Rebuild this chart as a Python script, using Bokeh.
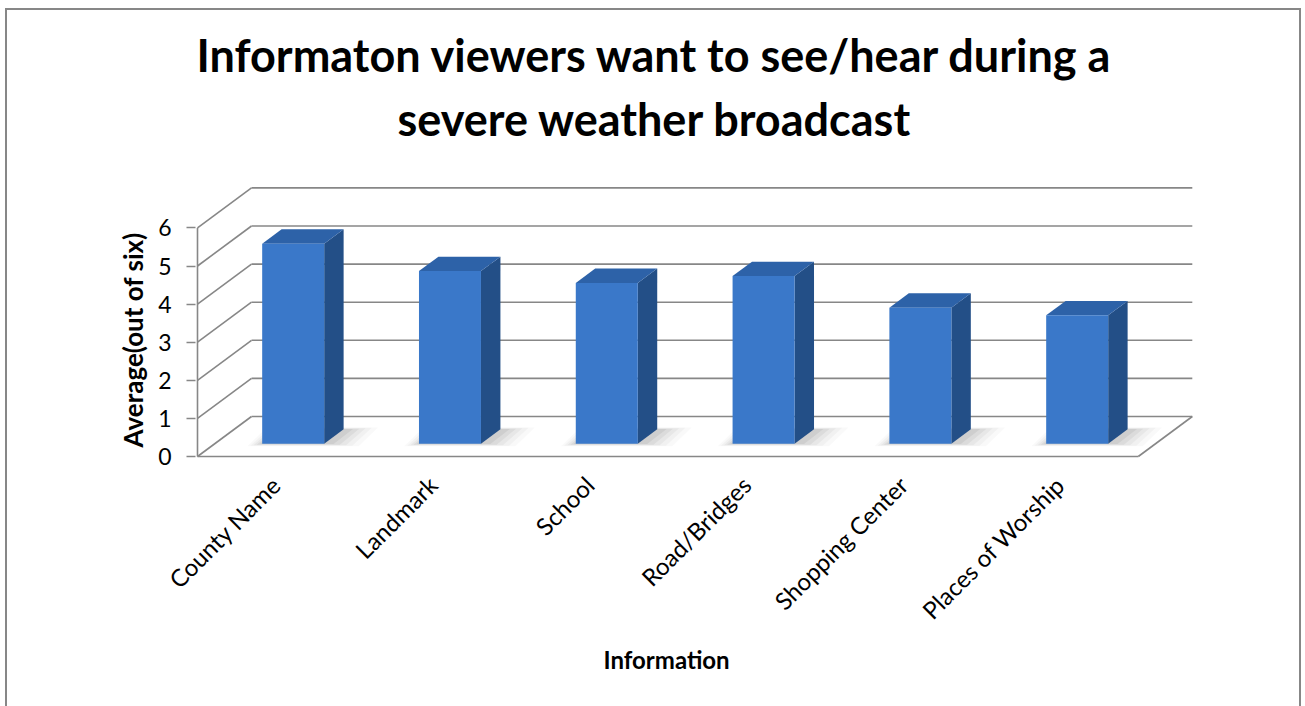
import math
from bokeh.plotting import figure
from bokeh.models import Range1d, FixedTicker, Title, InlineStyleSheet
from bokeh.embed import file_html
from bokeh.resources import INLINE

# ---------------- data ----------------
categories = ["County Name", "Landmark", "School", "Road/Bridges",
              "Shopping Center", "Places of Worship"]
values = [5.25, 4.53, 4.22, 4.40, 3.57, 3.37]
y_ticks = [0, 1, 2, 3, 4, 5, 6]
title_lines = ["Informaton viewers want to see/hear during a",
               "severe weather broadcast"]
x_title = "Information"
y_title = "Average(out of six)"

# ---------------- layout / projection ----------------
W, H = 1305, 706
PX = 156.8          # px per category
PY = 38.1           # px per value unit
DX = 54 / PX        # oblique depth offset (x, data units)
DY = 40 / PY        # oblique depth offset (y, data units)
X0_PX, Y0_PX = 197, 456          # front-left-bottom corner on canvas
FRAME_L, FRAME_R, FRAME_T, FRAME_B = 195, 1196, 184, 458
XL = -0.5                        # left edge of floor (category centers at 0..5)
XR = len(categories) - 0.5
x_start = XL - (X0_PX - FRAME_L) / PX
x_end = XL + (FRAME_R - X0_PX) / PX
y_start = -(FRAME_B - Y0_PX) / PY
y_end = (Y0_PX - FRAME_T) / PY

GRID = "#878787"
FONT = "Lato"

p = figure(width=W, height=H, x_range=Range1d(x_start, x_end),
           y_range=Range1d(y_start, y_end), output_backend="svg",
           toolbar_location=None,
           min_border_left=FRAME_L, min_border_right=W - FRAME_R,
           min_border_top=FRAME_T, min_border_bottom=H - FRAME_B)
p.outline_line_color = None
p.grid.visible = False
p.background_fill_color = "white"
p.border_fill_color = "white"
# chart-area border (Excel chart frame)
p.stylesheets = [InlineStyleSheet(css="""
:host::after {
  content: ""; position: absolute; left: 5px; top: 8px;
  width: 1296px; height: 698px; box-sizing: border-box;
  border: 2px solid #878787; border-bottom: none;
  pointer-events: none; z-index: 1000;
}
""")]

# ---------------- walls / floor ----------------
top_val = max(y_ticks)
p.segment(x0=[XL + DX] * len(y_ticks), y0=[k + DY for k in y_ticks],
          x1=[XR + DX] * len(y_ticks), y1=[k + DY for k in y_ticks],
          line_color=GRID, line_width=1.6)
p.segment(x0=[XL] * len(y_ticks), y0=y_ticks,
          x1=[XL + DX] * len(y_ticks), y1=[k + DY for k in y_ticks],
          line_color=GRID, line_width=1.6)
p.segment(x0=[XL, XL, XR], y0=[0, 0, 0],
          x1=[XL, XR, XR + DX], y1=[top_val, 0, DY],
          line_color=GRID, line_width=1.6)

# ---------------- bars ----------------
BAR_W = 62 / PX
F1, F2 = 0.32, 0.68

shadow_xs, shadow_ys, shadow_alpha = [], [], []
front_l, front_r, front_b, front_t = [], [], [], []
top_xs, top_ys, side_xs, side_ys = [], [], [], []
for i, v in enumerate(values):
    L = i - BAR_W / 2
    R = i + BAR_W / 2
    fx1, fy1 = F1 * DX, F1 * DY
    fx2, fy2 = F2 * DX, F2 * DY
    for e, a in [(0.19, 0.025), (0.15, 0.03), (0.11, 0.04), (0.07, 0.05), (0.03, 0.06)]:
        shadow_xs.append([L + fx1 - e * 0.5, R + fx1 + e + 0.03,
                          R + fx2 + e + 0.03, L + fx2 - e * 0.5])
        shadow_ys.append([fy1 - e * 0.35, fy1 - e * 0.35, fy2 + e * 0.25, fy2 + e * 0.25])
        shadow_alpha.append(a)
    front_l.append(L + fx1); front_r.append(R + fx1)
    front_b.append(fy1); front_t.append(v + fy1)
    top_xs.append([L + fx1, R + fx1, R + fx2, L + fx2])
    top_ys.append([v + fy1, v + fy1, v + fy2, v + fy2])
    side_xs.append([R + fx1, R + fx2, R + fx2, R + fx1])
    side_ys.append([fy1, fy2, v + fy2, v + fy1])

p.patches(xs=shadow_xs, ys=shadow_ys, fill_color="#000000",
          fill_alpha=shadow_alpha, line_color=None)
p.patches(xs=side_xs, ys=side_ys, fill_color="#234f87", line_color=None)
p.patches(xs=top_xs, ys=top_ys, fill_color="#2d62a8", line_color=None)
p.quad(left=front_l, right=front_r, bottom=front_b, top=front_t,
       fill_color="#3a78c9", line_color=None)

# ---------------- axes ----------------
p.yaxis.ticker = FixedTicker(ticks=y_ticks)
p.yaxis.axis_line_color = None
p.yaxis.major_tick_out = 9
p.yaxis.major_tick_in = 0
p.yaxis.major_tick_line_color = GRID
p.yaxis.major_tick_line_width = 1.6
p.yaxis.minor_tick_line_color = None
p.yaxis.major_label_standoff = 15
p.yaxis.major_label_text_font = FONT
p.yaxis.major_label_text_font_size = "23px"
p.yaxis.major_label_text_color = "#000000"

p.xaxis.ticker = FixedTicker(ticks=list(range(len(categories))))
p.xaxis.major_label_overrides = {i: c for i, c in enumerate(categories)}
p.xaxis.axis_line_color = None
p.xaxis.major_tick_line_color = None
p.xaxis.major_tick_out = 0
p.xaxis.major_tick_in = 0
p.xaxis.minor_tick_line_color = None
p.xaxis.major_label_orientation = math.pi / 4
p.xaxis.major_label_standoff = 22
p.xaxis.major_label_text_font = FONT
p.xaxis.major_label_text_font_size = "24px"
p.xaxis.major_label_text_color = "#000000"

# ---------------- titles ----------------
def bold_title(text, size, align="left", offset=0, standoff=10):
    return Title(text=text, align=align, offset=offset, standoff=standoff,
                 text_font=FONT, text_font_style="bold", text_font_size=size,
                 text_color="#000000")

# above: nearest to the plot first
p.add_layout(Title(text=" ", text_font_size="20px"), "above")          # spacer
p.add_layout(bold_title(title_lines[1], "45px", offset=202), "above")
p.add_layout(bold_title(title_lines[0], "45px", offset=1, standoff=5), "above")
p.add_layout(bold_title(x_title, "24px", offset=408), "below")
p.add_layout(bold_title(y_title, "26px", align="left", offset=11, standoff=14), "left")

open("out.html", "w").write(file_html(p, INLINE))
